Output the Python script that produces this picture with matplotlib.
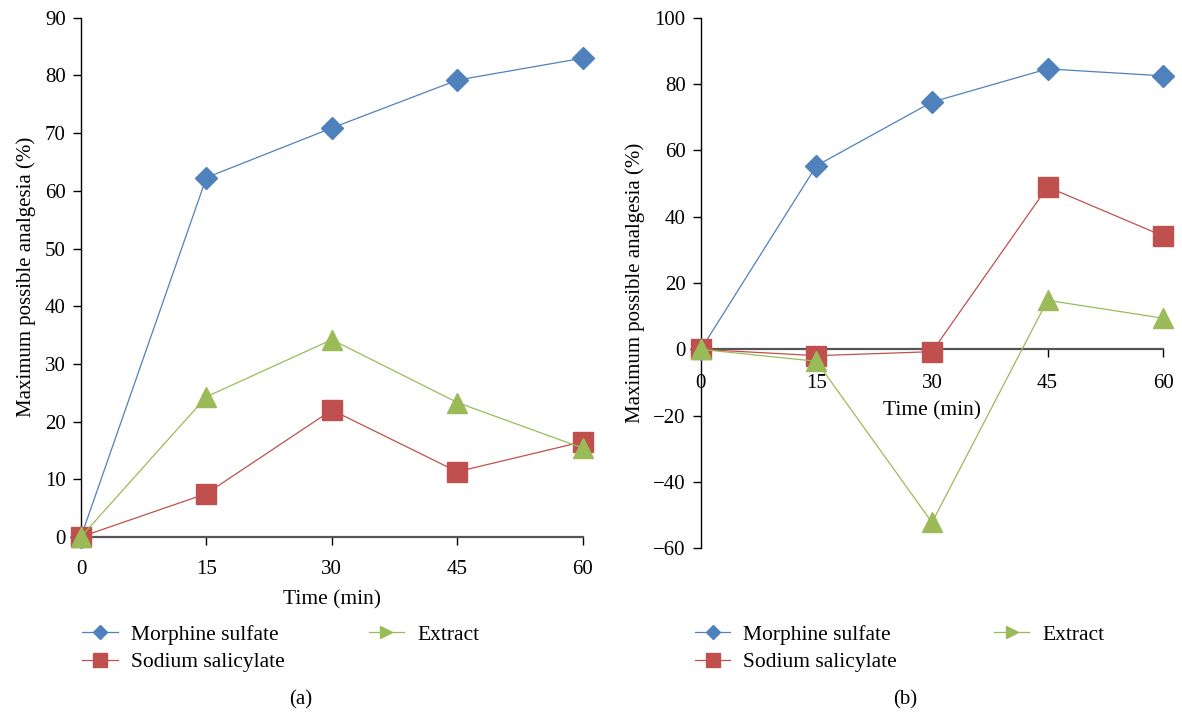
import matplotlib
matplotlib.use("Agg")
import matplotlib.pyplot as plt
from matplotlib.lines import Line2D

plt.rcParams['font.family'] = ['Liberation Serif', 'DejaVu Serif']

time = [0, 15, 30, 45, 60]

# panel (a)
morphine_a = [0, 62.3, 70.9, 79.2, 83.0]
sodium_a = [0, 7.5, 22.0, 11.3, 16.5]
extract_a = [0, 24.3, 34.2, 23.3, 15.4]

# panel (b)
morphine_b = [0, 55.4, 74.6, 84.6, 82.5]
sodium_b = [0, -1.9, -0.7, 49.0, 34.2]
extract_b = [0, -3.6, -52.2, 14.8, 9.4]

blue = '#4F81BD'
red = '#C0504D'
green = '#9BBB59'

fig = plt.figure(figsize=(11.82, 7.13), dpi=100)
ax1 = fig.add_axes([0.0685, 0.247, 0.4245, 0.728])
ax2 = fig.add_axes([0.593, 0.231, 0.391, 0.744])


def draw(ax, m, s, e):
    ax.plot(time, m, color=blue, lw=0.9, marker='D', ms=11.5, zorder=3)
    ax.plot(time, s, color=red, lw=0.9, marker='s', ms=15, zorder=4)
    ax.plot(time, e, color=green, lw=0.9, marker='^', ms=15, zorder=5)
    ax.set_xlim(0, 60)
    ax.set_xticks(time)
    for sp in ['top', 'right']:
        ax.spines[sp].set_visible(False)
    ax.spines['left'].set_color('black')
    ax.spines['bottom'].set_color('#555555')
    ax.spines['bottom'].set_linewidth(1.6)
    ax.spines['left'].set_linewidth(1.0)
    ax.tick_params(axis='both', labelsize=15, length=6, width=1.0, direction='out')
    ax.tick_params(axis='y', pad=5)
    ax.set_ylabel('Maximum possible analgesia (%)', fontsize=15, labelpad=6)
    for line in ax.lines:
        line.set_clip_on(False)


draw(ax1, morphine_a, sodium_a, extract_a)
ax1.set_ylim(0, 90)
ax1.set_yticks(range(0, 91, 10))
ax1.tick_params(axis='x', pad=10.5)
ax1.set_xlabel('Time (min)', fontsize=15.5, labelpad=8)

draw(ax2, morphine_b, sodium_b, extract_b)
ax2.set_ylim(-60, 100)
ax2.set_yticks(range(-60, 101, 20))
ax2.set_yticklabels(['\u221260', '\u221240', '\u221220', '0', '20', '40', '60', '80', '100'])
ax2.spines['bottom'].set_position(('data', 0))
ax2.tick_params(axis='x', pad=12)
ax2.set_xlabel('Time (min)', fontsize=15.5, labelpad=6)

handles = [
    Line2D([], [], color=blue, lw=0.9, marker='D', ms=7),
    Line2D([], [], color=red, lw=0.9, marker='s', ms=10),
    Line2D([], [], color=green, lw=0.9, marker='>', ms=9),
]
labels = ['Morphine sulfate', 'Sodium salicylate', 'Extract']
for x0, colsp in [(0.0625, 3.9), (0.5805, 4.5)]:
    fig.legend(handles, labels,
               loc='upper left', bbox_to_anchor=(x0, 0.136),
               bbox_transform=fig.transFigure, ncol=2, frameon=False,
               fontsize=15.5, handlelength=1.65, handletextpad=0.6,
               columnspacing=colsp, labelspacing=0.35, borderaxespad=0)

fig.text(301 / 1182, 1 - 700 / 713, '(a)', ha='center', va='center', fontsize=15)
fig.text(905 / 1182, 1 - 700 / 713, '(b)', ha='center', va='center', fontsize=15)

fig.savefig('out.png', dpi=100, facecolor='white')
